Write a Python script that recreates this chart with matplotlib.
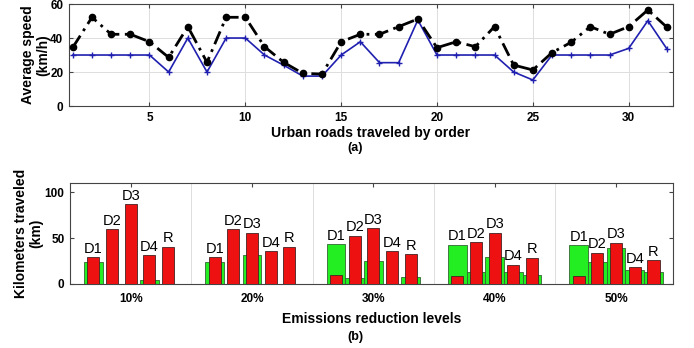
import numpy as np
import matplotlib
matplotlib.use('Agg')
import matplotlib.pyplot as plt

plt.rcParams['font.family'] = ['Liberation Sans', 'DejaVu Sans']

# (a) average speed per urban road
roads = list(range(1, 33))
speed_limit = [30, 30, 30, 30, 30, 20, 40, 20, 40, 40, 30, 24, 17.6, 17.6, 30, 37.8,
               25.5, 25.5, 50.6, 30, 30, 30, 30, 20, 15.3, 30, 30, 30, 30, 33.9, 50.2, 33.5]
speed_actual = [34.5, 52.2, 42.2, 42.2, 37.8, 28.6, 46.7, 25.7, 52.2, 52.2, 34.9, 25.7,
                19.2, 18.8, 37.8, 42.2, 42.2, 46.7, 51.2, 34.3, 37.8, 34.9, 46.7, 24.1,
                21.2, 31.4, 37.5, 46.7, 42.2, 46.7, 56.5, 46.3]

# (b) kilometers traveled per vehicle and reduction level
levels = ['10%', '20%', '30%', '40%', '50%']
vehicles = ['D1', 'D2', 'D3', 'D4', 'R']
km_green = {
    'D1': [24, 24, 43.5, 42.9, 42.5],
    'D2': [0, 0, 7, 12.6, 23.4],
    'D3': [0, 31.3, 25.5, 29.2, 39.3],
    'D4': [4, 0, 0, 12.6, 15],
    'R': [0, 0, 7.5, 10.1, 12.6],
}
km_red = {
    'D1': [29, 29, 9.7, 9, 9],
    'D2': [59.4, 59.4, 52.5, 45.4, 33.9],
    'D3': [86.7, 55.7, 61, 55.8, 45],
    'D4': [31.3, 36, 36, 20.9, 18.4],
    'R': [40.6, 40.6, 32.7, 28.8, 26],
}


def style_axes(ax, xpad=4):
    for s in ax.spines.values():
        s.set_color('#444444')
        s.set_linewidth(0.8)
    ax.tick_params(direction='in', top=True, right=True, length=3,
                   color='#444444', labelsize=8.5, pad=4)
    ax.tick_params(axis='x', pad=xpad)
    for lab in ax.get_xticklabels() + ax.get_yticklabels():
        lab.set_fontweight('bold')


def main():
    fig = plt.figure(figsize=(6.94, 3.48), dpi=100)

    # ---- (a)
    ax1 = fig.add_axes([0.0994, 0.6954, 0.870, 0.293])
    ax1.plot(roads, speed_limit, color='#2020b0', lw=1.2, marker='+', ms=4, mew=1.0, zorder=3)
    ax1.plot(roads, speed_actual, color='black', lw=2, ls=(0, (5, 2, 1, 2)),
             marker='o', ms=4.5, zorder=4)
    ax1.set_xlim(0.8, 32.3)
    ax1.set_ylim(0, 60)
    ax1.set_xticks([5, 10, 15, 20, 25, 30])
    ax1.set_yticks([0, 20, 40, 60])
    ax1.grid(True, color='#dddddd', lw=0.7)
    ax1.set_axisbelow(True)
    style_axes(ax1)
    ax1.set_ylabel('Average speed\n(km/h)', fontsize=10, fontweight='bold', labelpad=0,
                   linespacing=1.1)
    ax1.set_xlabel('Urban roads traveled by order', fontsize=10, fontweight='bold', labelpad=2)
    fig.text(0.512, 0.575, '(a)', ha='center', va='center', fontsize=9, fontweight='bold')

    # ---- (b)
    ax2 = fig.add_axes([0.1009, 0.184, 0.869, 0.290])
    x = np.arange(1, len(levels) + 1)
    step = 0.154
    for i, v in enumerate(vehicles):
        off = (i - 2) * step
        ax2.bar(x + off, km_green[v], width=step, color='#22ee22', edgecolor='#336633',
                lw=0.6, zorder=2)
    for i, v in enumerate(vehicles):
        off = (i - 2) * step
        ax2.bar(x + off, km_red[v], width=0.1, color='#ee1111', edgecolor='#442222',
                lw=0.6, zorder=3)
        for j in range(len(levels)):
            top = max(km_green[v][j], km_red[v][j])
            ax2.text(x[j] + off, top + 1.5, v, ha='center', va='bottom', fontsize=10.5,
                     zorder=5)
    ax2.set_xlim(0.5, 5.47)
    ax2.set_ylim(0, 110)
    ax2.set_xticks(x)
    ax2.set_xticklabels(levels)
    ax2.set_yticks([0, 50, 100])
    for b in [1.5, 2.5, 3.5, 4.5]:
        ax2.axvline(b, color='#dddddd', lw=0.7, zorder=0)
    style_axes(ax2, xpad=6.5)
    ax2.set_ylabel('Kilometers traveled\n(km)', fontsize=10, fontweight='bold', labelpad=1,
                   linespacing=1.1)
    ax2.set_xlabel('Emissions reduction levels', fontsize=10, fontweight='bold', labelpad=5)
    fig.text(0.512, 0.032, '(b)', ha='center', va='center', fontsize=9, fontweight='bold')

    fig.savefig('out.png', dpi=100)


if __name__ == '__main__':
    main()
